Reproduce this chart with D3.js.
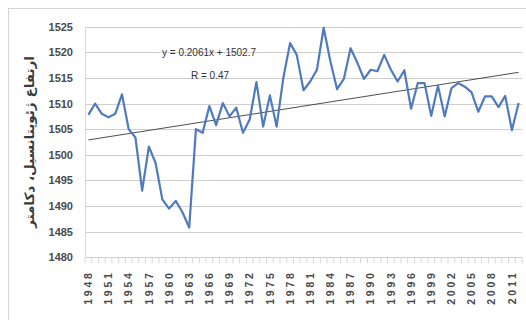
<!DOCTYPE html>
<html>
<head>
<meta charset="utf-8">
<script src="https://cdn.jsdelivr.net/npm/d3@7"></script>
<style>
  html, body { margin: 0; padding: 0; background: #fff; }
  svg { display: block; }
</style>
</head>
<body>
<svg id="chart" width="526" height="320"></svg>
<script>
// Yearly mean geopotential height, 1948–2012
const years = d3.range(1948, 2013);
const heights = [
  1507.8, 1510.0, 1508.0, 1507.3, 1508.0, 1511.8, 1505.0, 1503.4, 1493.0, 1501.6,
  1498.4, 1491.3, 1489.5, 1491.0, 1488.8, 1485.8, 1505.0, 1504.3, 1509.5, 1505.8,
  1510.1, 1507.5, 1509.2, 1504.3, 1506.9, 1514.2, 1505.5, 1511.6, 1505.5, 1515.0,
  1521.8, 1519.5, 1512.6, 1514.3, 1516.6, 1524.8, 1518.2, 1512.8, 1514.8, 1520.8,
  1518.0, 1514.8, 1516.6, 1516.3, 1519.5, 1516.6, 1514.3, 1516.5, 1509.0, 1514.0,
  1514.0, 1507.6, 1513.5, 1507.5, 1513.0, 1514.0, 1513.3, 1512.2, 1508.4, 1511.4,
  1511.4, 1509.3, 1511.5, 1504.8, 1510.1
];
const yTicks = [1480, 1485, 1490, 1495, 1500, 1505, 1510, 1515, 1520, 1525];
const xTickYears = d3.range(1948, 2013, 3);

// Linear trend y = slope * n + intercept, n = 1..65
const trendSlope = 0.2061;
const trendIntercept = 1502.7;
const trendLabel = "y = 0.2061x + 1502.7";
const rLabel = "R = 0.47";
const yTitle = "ارتفاع ژئوپتانسیل، دکامتر";

const svg = d3.select("#chart");
const plot = { left: 85, right: 522, top: 26.7, bottom: 257.3 };

// Outer chart frame
svg.append("rect")
  .attr("x", 8.5).attr("y", 8.5)
  .attr("width", 540).attr("height", 340)
  .attr("fill", "none").attr("stroke", "#d4d4d4").attr("stroke-width", 1);

const x = d3.scaleBand().domain(years).range([plot.left, plot.right]).padding(0);
const xc = d => x(d) + x.bandwidth() / 2;
const y = d3.scaleLinear().domain([1480, 1525]).range([plot.bottom, plot.top]);

// Horizontal gridlines
svg.append("g")
  .selectAll("line").data(yTicks).join("line")
  .attr("x1", plot.left).attr("x2", plot.right)
  .attr("y1", d => Math.round(y(d)) + 0.5).attr("y2", d => Math.round(y(d)) + 0.5)
  .attr("stroke", "#cfcfcf").attr("stroke-width", 1);

// Vertical axis line
svg.append("line")
  .attr("x1", plot.left + 0.5).attr("x2", plot.left + 0.5)
  .attr("y1", plot.top).attr("y2", plot.bottom)
  .attr("stroke", "#dadada");

// Y axis labels
const yAxis = d3.axisLeft(y).tickValues(yTicks).tickSize(0).tickPadding(12)
  .tickFormat(d3.format("d"));
const gy = svg.append("g").attr("transform", `translate(${plot.left},0)`).call(yAxis);
gy.select(".domain").remove();
gy.selectAll("text")
  .attr("font-family", "'Liberation Sans', Arial, sans-serif")
  .attr("font-size", 11).attr("font-weight", "bold").attr("fill", "#4a4a4a");

// X axis: tick marks at category boundaries and rotated year labels
const xAxis = d3.axisBottom(x).tickValues(xTickYears).tickSize(0).tickPadding(0);
const gx = svg.append("g").attr("transform", `translate(0,${plot.bottom})`).call(xAxis);
gx.select(".domain").remove();
gx.selectAll("text")
  .attr("font-family", "'Liberation Sans', Arial, sans-serif")
  .attr("font-size", 10.5).attr("font-weight", "bold").attr("fill", "#4a4a4a")
  .attr("letter-spacing", "2.8px")
  .attr("text-anchor", "end")
  .attr("transform", "rotate(-90)")
  .attr("x", -13).attr("y", 0).attr("dy", "0.35em");

svg.append("g")
  .selectAll("line").data(years.concat([null])).join("line")
  .attr("x1", (d, i) => plot.left + i * x.bandwidth())
  .attr("x2", (d, i) => plot.left + i * x.bandwidth())
  .attr("y1", plot.bottom).attr("y2", plot.bottom + 6)
  .attr("stroke", "#d6d6d6");

// Trend line drawn from its equation
const n = years.length;
svg.append("line")
  .attr("x1", xc(years[0])).attr("y1", y(trendSlope * 1 + trendIntercept))
  .attr("x2", xc(years[n - 1])).attr("y2", y(trendSlope * n + trendIntercept))
  .attr("stroke", "#3a3a3a").attr("stroke-width", 0.9);

// Data series
const line = d3.line().x((d, i) => xc(years[i])).y(d => y(d));
svg.append("path")
  .datum(heights)
  .attr("d", line)
  .attr("fill", "none")
  .attr("stroke", "#4f7bbd")
  .attr("stroke-width", 2.2)
  .attr("stroke-linejoin", "round");

// Trend equation and correlation
svg.append("text")
  .attr("x", 209).attr("y", 52).attr("dy", "0.35em")
  .attr("text-anchor", "middle")
  .attr("font-family", "'Liberation Sans', Arial, sans-serif")
  .attr("font-size", 10).attr("fill", "#333")
  .text(trendLabel);
svg.append("text")
  .attr("x", 210).attr("y", 75).attr("dy", "0.35em")
  .attr("text-anchor", "middle")
  .attr("font-family", "'Liberation Sans', Arial, sans-serif")
  .attr("font-size", 10).attr("fill", "#333")
  .text(rLabel);

// Vertical axis title
svg.append("text")
  .attr("transform", `translate(29,${(plot.top + plot.bottom) / 2}) rotate(-90)`)
  .attr("text-anchor", "middle").attr("dy", "0.35em")
  .attr("direction", "rtl")
  .attr("font-family", "'DejaVu Sans', sans-serif")
  .attr("font-size", 13).attr("font-weight", "bold").attr("fill", "#3a3a3a")
  .attr("textLength", 172).attr("lengthAdjust", "spacingAndGlyphs")
  .text(yTitle);
</script>
</body>
</html>
